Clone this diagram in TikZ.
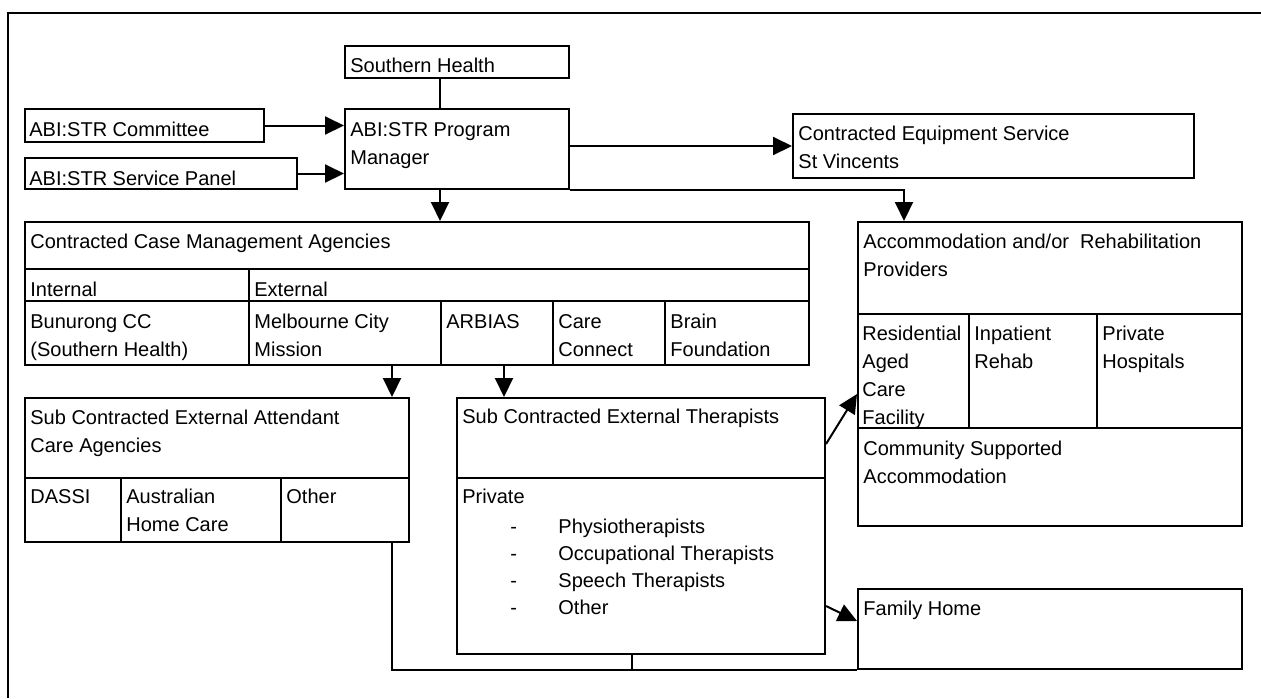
\documentclass[tikz,border=0pt]{standalone}
\usepackage{fontspec}
\setmainfont{Liberation Sans}
\usetikzlibrary{arrows.meta,calc}
\newcommand{\boxtext}[1]{\begin{tabular}[t]{@{}l@{}}#1\end{tabular}}

\begin{document}
\begin{tikzpicture}[x=0.5pt,y=0.5pt,yscale=-1,xscale=1,
	box/.style 2 args={draw, line width=1pt, inner sep=0pt, anchor=north west, minimum width=#1*0.5pt, minimum height=#2*0.5pt},
	lbl/.style={anchor=base west, inner sep=0pt, font=\fontsize{10}{14}\selectfont},
	lst/.style={lbl, font=\fontsize{10}{13.5}\selectfont},
	arr/.style={line width=1pt, -{Triangle[length=9.5pt,width=9pt]}},
	wire/.style={line width=1pt}]
	\useasboundingbox (0,0) rectangle (1261,698);
	\draw[line width=1.2pt] (8,698) -- (8,13) -- (1261,13);

	\coordinate (spine) at (440,0);
	\coordinate (mcol) at (392,0);
	\coordinate (acol) at (504,0);
	\coordinate (tcol) at (632,0);

	% program level
	\node[box={224}{32}] (sh) at (344,45) {};
	\node[box={239}{33}] (com) at (24,108) {};
	\node[box={272}{31}] (pan) at (24,157) {};
	\node[box={224}{80}] (pm) at (344,108) {};
	\node[box={401}{64}] (eq) at (792,113) {};

	\node[lbl] (shT) at ($(sh.north west)+(6,27)$) {Southern Health};
	\node[lbl] (comT) at ($(com.north west)+(5,28)$) {ABI:STR Committee};
	\node[lbl] (panT) at ($(pan.north west)+(5,28)$) {ABI:STR Service Panel};
	\node[lbl] (pmT) at ($(pm.north west)+(6,28)$) {\boxtext{ABI:STR Program\\Manager}};
	\node[lbl] (eqT) at ($(eq.north west)+(6,27)$) {\boxtext{Contracted Equipment Service\\St Vincents}};

	% case management
	\node[box={784}{47}] (ccm) at (24,221) {};
	\node[box={224}{32}] (int) at (24,268) {};
	\node[box={560}{32}] (ext) at (248,268) {};
	\node[box={224}{64}] (bun) at (24,300) {};
	\node[box={192}{64}] (mcm) at (248,300) {};
	\node[box={112}{64}] (arb) at (440,300) {};
	\node[box={112}{64}] (cc) at (552,300) {};
	\node[box={144}{64}] (bf) at (664,300) {};

	\node[lbl] (ccmT) at ($(ccm.north west)+(6,27)$) {Contracted Case Management Agencies};
	\node[lbl] (intT) at ($(int.north west)+(6,28)$) {Internal};
	\node[lbl] (extT) at ($(ext.north west)+(6,28)$) {External};
	\node[lbl] (bunT) at ($(bun.north west)+(6,28)$) {\boxtext{Bunurong CC\\(Southern Health)}};
	\node[lbl] (mcmT) at ($(mcm.north west)+(6,28)$) {\boxtext{Melbourne City\\Mission}};
	\node[lbl] (arbT) at ($(arb.north west)+(6,28)$) {ARBIAS};
	\node[lbl] (ccT) at ($(cc.north west)+(6,28)$) {\boxtext{Care\\Connect}};
	\node[lbl] (bfT) at ($(bf.north west)+(6,28)$) {\boxtext{Brain\\Foundation}};

	% accommodation
	\node[box={384}{92}] (acc) at (857,221) {};
	\node[box={111}{114}] (rac) at (857,313) {};
	\node[box={128}{114}] (inp) at (968,313) {};
	\node[box={145}{114}] (ph) at (1096,313) {};
	\node[box={384}{98}] (csa) at (857,427) {};
	\node[box={384}{80}] (fam) at (857,588) {};

	\node[lbl] (accT) at ($(acc.north west)+(6,27)$) {\boxtext{Accommodation and/or~ Rehabilitation\\Providers}};
	\begin{scope}
		\clip (rac.north west) rectangle (rac.south east);
		\node[lbl] (racT) at ($(rac.north west)+(5,27)$) {\boxtext{Residential\\Aged\\Care\\Facility}};
	\end{scope}
	\node[lbl] (inpT) at ($(inp.north west)+(6,27)$) {\boxtext{Inpatient\\Rehab}};
	\node[lbl] (phT) at ($(ph.north west)+(6,27)$) {\boxtext{Private\\Hospitals}};
	\node[lbl] (csaT) at ($(csa.north west)+(6,28)$) {\boxtext{Community Supported\\Accommodation}};
	\node[lbl] (famT) at ($(fam.north west)+(6,27)$) {Family Home};

	% sub contracted
	\node[box={384}{80}] (att) at (24,397) {};
	\node[box={96}{64}] (das) at (24,477) {};
	\node[box={160}{64}] (ahc) at (120,477) {};
	\node[box={128}{64}] (oth) at (280,477) {};
	\node[box={368}{80}] (ther) at (456,397) {};
	\node[box={368}{176}] (priv) at (456,477) {};

	\node[lbl] (attT) at ($(att.north west)+(6,27)$) {\boxtext{Sub Contracted External Attendant\\Care Agencies}};
	\node[lbl] (dasT) at ($(das.north west)+(6,26)$) {DASSI};
	\node[lbl] (ahcT) at ($(ahc.north west)+(6,26)$) {\boxtext{Australian\\Home Care}};
	\node[lbl] (othT) at ($(oth.north west)+(6,26)$) {Other};
	\node[lbl] (therT) at ($(ther.north west)+(6,26)$) {Sub Contracted External Therapists};
	\node[lbl] (privT) at ($(priv.north west)+(6,26)$) {Private};
	\node[lst] (dashT) at (510,533) {\boxtext{-\\-\\-\\-}};
	\node[lst] (listT) at (558,533) {\boxtext{Physiotherapists\\Occupational Therapists\\Speech Therapists\\Other}};

	% connectors
	\draw[wire] (sh.south -| spine) -- (pm.north -| spine);
	\draw[arr] (com.east) -- (com.east -| pm.west);
	\draw[arr] (pan.east) -- (pan.east -| pm.west);
	\draw[arr] (pm.east |- eq.west) -- (eq.west);
	\draw[arr] (pm.south east) -| ($(acc.north west)+(47,0)$);
	\draw[arr] (pm.south -| spine) -- (ccm.north -| spine);
	\draw[arr] (mcm.south -| mcol) -- (att.north -| mcol);
	\draw[arr] (arb.south -| acol) -- (ther.north -| acol);
	\draw[arr] ($(ther.east)+(0,6)$) -- ($(rac.west)+(0,23)$);
	\draw[arr] ($(priv.east)+(0,40)$) -- ($(fam.west)+(0,-8)$);
	\draw[wire] (oth.south -| mcol) |- (fam.south west);
	\draw[wire] (priv.south -| tcol) -- (tcol |- fam.south);
\end{tikzpicture}
\end{document}
